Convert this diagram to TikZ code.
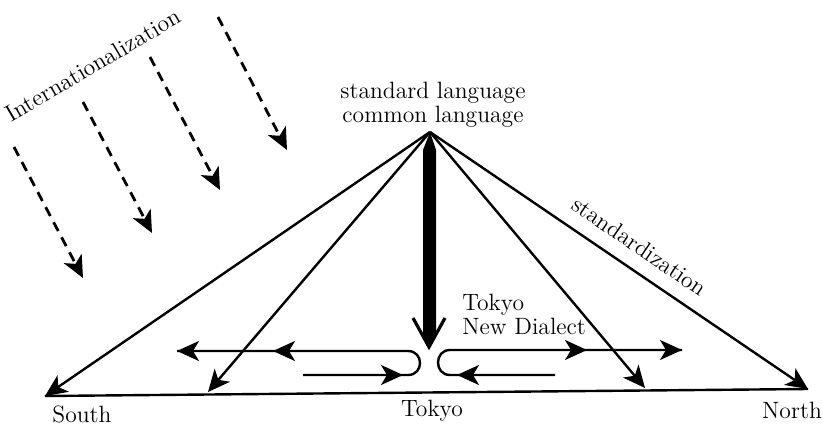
\documentclass[tikz,border=0pt]{standalone}
\usetikzlibrary{arrows.meta}
\begin{document}
\begin{tikzpicture}[x=0.5pt,y=-0.5pt,
  thinline/.style={line width=1.2pt},
  tip/.style={-{Stealth[length=11pt,width=10pt,inset=3pt]}},
  flow/.style={thinline,tip},
  intl/.style={line width=1.4pt,dash pattern=on 5pt off 3.5pt,
    -{Stealth[length=11pt,width=10pt,inset=3pt,sep=0pt]}},
  lbl/.style={font=\fontsize{11.8}{12}\selectfont,inner sep=0pt}]
\useasboundingbox (0,0) rectangle (823,428);

% main points
\coordinate (apex) at (430,132);
\coordinate (south) at (45,396);
\coordinate (north) at (808,389);
\coordinate (inL) at (208,392);
\coordinate (inR) at (645,388);

% base line
\draw[thinline] (south) -- (north);

% arrows out of the standard language
\draw[flow] (apex) -- (south);
\draw[flow] (apex) -- (inL);
\draw[flow] (apex) -- (inR);
\draw[flow] (apex) -- node[lbl,sloped,above=7pt,pos=0.52]{standardization} (north);

% thick central arrow
\coordinate (tk) at (429,347);
\fill (apex) -- (436,150) -- (436,336) -- (tk) -- (423,336) -- (423,150) -- cycle;
\draw[line width=1.6pt] (413,318) -- (tk) -- (445,318);

% left loop
\coordinate (l1) at (303,375);
\coordinate (l2) at (408,375);
\coordinate (l3) at (408,351);
\coordinate (l4) at (177,351);
\coordinate (lm) at (273,351);
\coordinate (lb) at (403,375);
\draw[thinline] (l1) -- (l2) .. controls (424,375) and (424,351) .. (l3) -- (l4);
\draw[flow] (l1) -- (lb);
\draw[flow] (l3) -- (lm);
\draw[flow] (lm) -- (l4);

% right loop
\coordinate (r1) at (555,375);
\coordinate (r2) at (450,375);
\coordinate (r3) at (450,350);
\coordinate (r4) at (682,350);
\coordinate (rm) at (587,350);
\coordinate (rb) at (457,375);
\draw[thinline] (r1) -- (r2) .. controls (434,375) and (434,350) .. (r3) -- (r4);
\draw[flow] (r1) -- (rb);
\draw[flow] (r3) -- (rm);
\draw[flow] (rm) -- (r4);

% internationalization arrows
\coordinate (a1) at (14,147);  \coordinate (b1) at (83,278);
\coordinate (a2) at (83,102);  \coordinate (b2) at (152,233);
\coordinate (a3) at (150,57);  \coordinate (b3) at (220,190);
\coordinate (a4) at (218,17);  \coordinate (b4) at (287,150);
\draw[intl] (a1) -- (b1);
\draw[intl] (a2) -- (b2);
\draw[intl] (a3) -- (b3);
\draw[intl] (a4) -- (b4);

% labels
\node[lbl,rotate=30.5,anchor=base] (intlabel) at (97,72) {Internationalization};
\node[lbl,align=center] (std) at (433,105) {standard language\\common language};
\node[lbl,align=left,anchor=west] (tnd) at (462,314) {Tokyo\\New Dialect};
\node[lbl] (southlbl) at (82,414) {South};
\node[lbl] (tokyolbl) at (432,411) {Tokyo};
\node[lbl] (northlbl) at (792,410) {North};
\end{tikzpicture}
\end{document}
